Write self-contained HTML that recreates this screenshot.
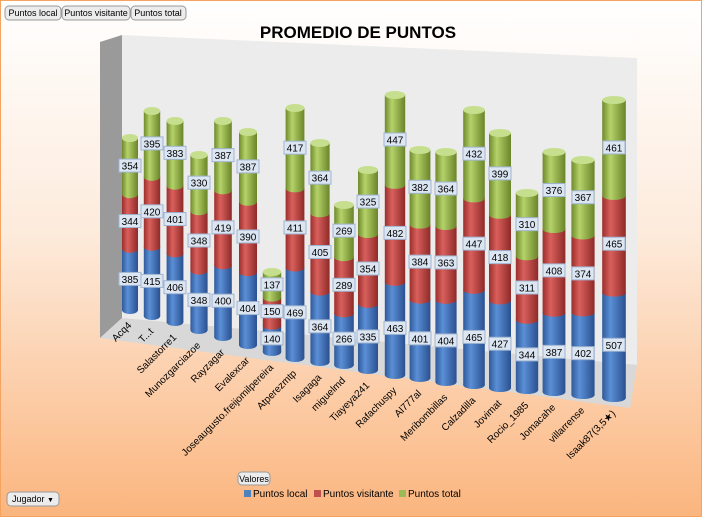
<!DOCTYPE html>
<html><head><meta charset="utf-8"><style>
html,body{margin:0;padding:0}
body{width:702px;height:517px;overflow:hidden;font-family:"Liberation Sans",sans-serif}
</style></head><body>
<svg id="s" width="702" height="517" xmlns="http://www.w3.org/2000/svg" font-family="Liberation Sans, sans-serif">
<defs>
<linearGradient id="bg" x1="0" y1="0" x2="0" y2="1"><stop offset="0" stop-color="#ffffff"/><stop offset="0.45" stop-color="#fdebdc"/><stop offset="1" stop-color="#fbb57e"/></linearGradient>
<linearGradient id="gb" x1="0" x2="1"><stop offset="0" stop-color="#2f5a9a"/><stop offset="0.35" stop-color="#5b8fd6"/><stop offset="1" stop-color="#2a5090"/></linearGradient>
<linearGradient id="gr" x1="0" x2="1"><stop offset="0" stop-color="#9a2e2c"/><stop offset="0.35" stop-color="#d9605c"/><stop offset="1" stop-color="#8e2a28"/></linearGradient>
<linearGradient id="gg" x1="0" x2="1"><stop offset="0" stop-color="#6f8a2c"/><stop offset="0.35" stop-color="#b5d26a"/><stop offset="1" stop-color="#6a8428"/></linearGradient>
</defs>
<rect x="0" y="0" width="702" height="517" fill="url(#bg)" stroke="#f4a460" stroke-width="2"/>
<polygon points="100,42 122,35 122,318 100,338" fill="#9a9a9a"/>
<polygon points="122,35 637,58 637,365 122,318" fill="#ececec"/>
<polygon points="100,338 122,318 637,365 630,408" fill="#d8d8d8"/>
<text x="358" y="38" font-size="17" font-weight="bold" text-anchor="middle">PROMEDIO DE PUNTOS</text>
<g id="bars"></g>
<g font-size="9">
<rect x="5" y="6" width="56" height="14" rx="4" fill="#ececec" stroke="#999"/><text x="33" y="16" text-anchor="middle">Puntos local</text>
<rect x="62" y="6" width="68" height="14" rx="4" fill="#ececec" stroke="#999"/><text x="96" y="16" text-anchor="middle">Puntos visitante</text>
<rect x="131" y="6" width="55" height="14" rx="4" fill="#ececec" stroke="#999"/><text x="158" y="16" text-anchor="middle">Puntos total</text>
<rect x="238" y="472" width="32" height="13" rx="4" fill="#ececec" stroke="#999"/><text x="254" y="482" text-anchor="middle">Valores</text>
<rect x="7" y="492" width="52" height="14" rx="4" fill="#ececec" stroke="#999"/><text x="12" y="502">Jugador</text><text x="47" y="502" font-size="7">▼</text>
</g>
<g font-size="10">
<rect x="244" y="490" width="7" height="7" fill="#4f81bd"/><text x="253" y="497">Puntos local</text>
<rect x="314" y="490" width="7" height="7" fill="#c0504d"/><text x="323" y="497">Puntos visitante</text>
<rect x="399" y="490" width="7" height="7" fill="#9bbb59"/><text x="408" y="497">Puntos total</text>
</g>
</svg>
<script>
var d=[["Acq4",130,138,310,385,344,354],["T...t",152,111,316,415,420,395],["Salastorre1",175,121,322,406,401,383],["Munozgarciazoe",199,155,330,348,348,330],["Rayzagar",223,121,337,400,419,387],["Evalexcar",248,132,345,404,390,387],["Joseaugusto.freijomilpereira",272,272,352,140,150,137],["Atperezmtp",295,108,358,469,411,417],["Isagaga",320,143,362,364,405,364],["miguelmd",344,205,365,266,289,269],["Tiayeya241",368,170,370,335,354,325],["Rafachuspy",395,95,375,463,482,447],["Al777al",420,150,378,401,384,382],["Meribombillas",446,152,382,404,363,364],["Calzadilla",474,110,385,465,447,432],["Jovimat",500,133,388,427,418,399],["Rocio_1985",527,193,390,344,311,310],["Jomacahe",554,152,392,387,408,376],["villarrense",583,160,395,402,374,367],["Isaak87(3,5★)",614,100,398,507,465,461]];
var h="",fills=["url(#gb)","url(#gr)","url(#gg)"],tops=["#7ea6e0","#e08a86","#c6df8e"];
d.forEach(function(r,i){var x=r[1],t=r[2],b=r[3],w=16+i*0.4,ry=4,s=r[4]+r[5]+r[6],H=b-t;
var y=b,labs=[];
for(var k=0;k<3;k++){var hh=H*r[4+k]/s,y2=y-hh;
h+='<rect x="'+(x-w/2)+'" y="'+y2+'" width="'+w+'" height="'+hh+'" fill="'+fills[k]+'"/>';
h+='<ellipse cx="'+x+'" cy="'+y+'" rx="'+w/2+'" ry="'+ry+'" fill="'+fills[k]+'"/>';
labs.push([y-hh/2,r[4+k]]);y=y2;}
h+='<ellipse cx="'+x+'" cy="'+t+'" rx="'+w/2+'" ry="'+ry+'" fill="'+tops[2]+'"/>';
labs.forEach(function(l){h+='<rect x="'+(x-11)+'" y="'+(l[0]-7)+'" width="22" height="13" fill="#dce6f2" stroke="#9fb4d0"/><text x="'+x+'" y="'+(l[0]+3.5)+'" font-size="10" text-anchor="middle">'+l[1]+'</text>';});
var lx=x+2,ly=b+16;
h+='<text transform="translate('+lx+','+ly+') rotate(-45)" font-size="10" text-anchor="end">'+r[0]+'</text>';
});
document.getElementById("bars").innerHTML=h;
</script>
</body></html>
